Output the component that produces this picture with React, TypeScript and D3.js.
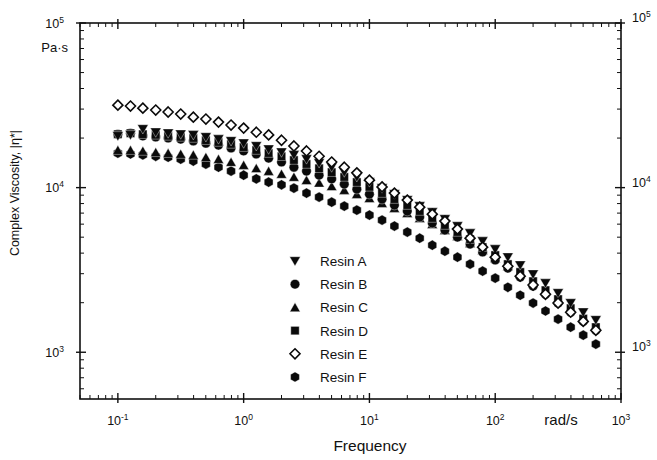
import React from 'react';
import * as d3 from 'd3';

const W = 657;
const H = 460;

const frequency = [0.1, 0.126, 0.158, 0.2, 0.251, 0.316, 0.398, 0.501, 0.631, 0.794, 1, 1.26, 1.58, 2, 2.51, 3.16, 3.98, 5.01, 6.31, 7.94, 10, 12.6, 15.8, 20, 25.1, 31.6, 39.8, 50.1, 63.1, 79.4, 100, 126, 158, 200, 251, 316, 398, 501, 631];

const resinA = [20600, 20900, 22700, 21700, 21400, 21100, 20900, 20300, 19700, 19200, 18600, 17900, 17100, 16400, 15800, 14900, 14100, 13300, 12400, 11600, 10800, 9930, 9130, 8400, 7720, 7100, 6440, 5840, 5290, 4730, 4230, 3780, 3380, 2980, 2630, 2290, 1990, 1750, 1570];
const resinB = [21100, 21400, 20600, 20300, 20000, 19700, 19200, 18600, 18100, 17400, 16700, 16000, 15100, 14300, 13300, 12600, 11900, 11300, 10500, 9790, 9130, 8510, 7830, 7200, 6620, 6090, 5520, 5000, 4540, 4060, 3630, 3240, 2860, 2520, 2250, 1990, 1750, 1540, 1360];
const resinC = [16900, 16900, 16700, 16400, 16200, 16000, 15800, 15300, 14900, 14300, 13700, 13100, 12600, 12100, 11600, 11100, 10700, 10200, 9660, 9130, 8630, 8050, 7510, 7000, 6530, 6000, 5520, 5070, 4600, 4170, 3730, 3330, 2980, 2630, 2350, 2070, 1830, 1610, 1420];
const resinD = [21100, 21400, 21100, 20900, 20600, 20300, 20000, 19400, 18900, 18400, 17600, 16900, 16200, 15500, 14700, 13900, 13100, 12400, 11600, 10800, 10100, 9260, 8510, 7830, 7200, 6530, 5920, 5370, 4860, 4350, 3890, 3430, 3070, 2700, 2380, 2100, 1850, 1600, 1420];
const resinE = [31700, 31300, 30400, 29600, 28800, 28000, 26800, 26100, 25000, 24000, 23000, 21700, 20900, 19400, 17900, 16700, 15500, 14300, 13300, 12300, 11100, 10100, 9260, 8400, 7610, 6900, 6260, 5600, 4930, 4350, 3780, 3330, 2900, 2560, 2250, 1990, 1750, 1540, 1360];
const resinF = [16200, 16000, 15800, 15500, 15300, 14900, 14500, 13900, 13300, 12600, 11900, 11300, 10800, 10400, 9930, 9260, 8760, 8160, 7720, 7300, 6810, 6350, 5840, 5370, 4930, 4470, 4110, 3780, 3430, 3110, 2820, 2480, 2220, 1990, 1780, 1590, 1420, 1270, 1120];

const legendNames = ['Resin A', 'Resin B', 'Resin C', 'Resin D', 'Resin E', 'Resin F'];
const symbolKinds = ['triDown', 'circle', 'triUp', 'square', 'diamond', 'hexagon'];
const seriesValues = [resinA, resinB, resinC, resinD, resinE, resinF];
const drawOrder = [5, 2, 1, 3, 0, 4];

const xMajorLabels = ['-1', '0', '1', '2', '3'];
const yMajorLabels = ['3', '4', '5'];

function markerPath(kind: string): string {
  switch (kind) {
    case 'triDown':
      return 'M-5.4,-4.3L5.4,-4.3L0,5Z';
    case 'triUp':
      return 'M0,-4.8L5.2,4.3L-5.2,4.3Z';
    case 'circle':
      return 'M-4.8,0A4.8,4.8 0 1,0 4.8,0A4.8,4.8 0 1,0 -4.8,0Z';
    case 'square':
      return 'M-4.2,-4.2L4.2,-4.2L4.2,4.2L-4.2,4.2Z';
    case 'diamond':
      return 'M0,-5L5,0L0,5L-5,0Z';
    case 'hexagon': {
      const r = 5.1;
      const pts = d3.range(6).map((i) => {
        const a = (Math.PI / 3) * i + Math.PI / 6;
        return `${(r * Math.cos(a)).toFixed(2)},${(r * Math.sin(a)).toFixed(2)}`;
      });
      return 'M' + pts.join('L') + 'Z';
    }
    default:
      return '';
  }
}

function Marker({ kind, cx, cy }: { kind: string; cx: number; cy: number }) {
  const open = kind === 'diamond';
  return (
    <path
      d={markerPath(kind)}
      transform={`translate(${cx},${cy})`}
      fill={open ? '#fff' : '#0a0a0a'}
      stroke={open ? '#0a0a0a' : '#fff'}
      strokeWidth={open ? 1.6 : 0.4}
    />
  );
}

export default function App() {
  const left = 80, right = 621, top = 23, bottom = 399;
  const x = d3.scaleLog().domain([0.05, 1000]).range([left, right]);
  const y = d3.scaleLog().domain([520, 100000]).range([bottom, top]);
  const isMajor = (t: number) => Math.abs(Math.log10(t) - Math.round(Math.log10(t))) < 1e-6;
  const xTicks = x.ticks();
  const yTicks = y.ticks();
  const xMajors = xTicks.filter(isMajor);
  const yMajors = yTicks.filter(isMajor);
  const font = 'Liberation Sans, Arial, sans-serif';
  const ink = '#111';

  return (
    <svg width={W} height={H} style={{ position: 'absolute', left: 0, top: 0, background: '#fff' }} fontFamily={font}>
      <rect x={0} y={0} width={W} height={H} fill="#fff" />
      {xTicks.map((t, i) => {
        const m = isMajor(t);
        const px = x(t);
        return (
          <g key={'xt' + i} stroke={ink} strokeWidth={m ? 1.4 : 1}>
            <line x1={px} x2={px} y1={m ? bottom + 4 : bottom} y2={bottom - (m ? 6 : 4)} />
            <line x1={px} x2={px} y1={m ? top - 4 : top} y2={top + (m ? 6 : 4)} />
          </g>
        );
      })}
      {yTicks.map((t, i) => {
        const m = isMajor(t);
        const py = y(t);
        return (
          <g key={'yt' + i} stroke={ink} strokeWidth={m ? 1.4 : 1}>
            <line x1={m ? left - 4 : left} x2={left + (m ? 6 : 4)} y1={py} y2={py} />
            <line x1={m ? right + 4 : right} x2={right - (m ? 6 : 4)} y1={py} y2={py} />
          </g>
        );
      })}
      <rect x={left} y={top} width={right - left} height={bottom - top} fill="none" stroke={ink} strokeWidth={1.6} />

      {xMajors.map((t, i) => (
        <text key={'xl' + i} x={x(t)} y={425} textAnchor="middle" fontSize={12.5} fill={ink}>
          10<tspan dy={-5} fontSize={8.5}>{xMajorLabels[i]}</tspan>
        </text>
      ))}
      <text x={561} y={425} textAnchor="middle" fontSize={15} fill={ink}>rad/s</text>
      <text x={370} y={451} textAnchor="middle" fontSize={15.5} fill={ink}>Frequency</text>

      {yMajors.map((t, i) => (
        <text key={'yl' + i} x={64} y={y(t) + 4.5} textAnchor="end" fontSize={12.5} fill={ink}>
          10<tspan dy={-5} fontSize={8.5}>{yMajorLabels[i]}</tspan>
        </text>
      ))}
      {yMajors.map((t, i) => (
        <text key={'yr' + i} x={632} y={y(t) - 1} textAnchor="start" fontSize={12.5} fill={ink}>
          10<tspan dy={-5} fontSize={8.5}>{yMajorLabels[i]}</tspan>
        </text>
      ))}
      <text x={68} y={52} textAnchor="end" fontSize={13} fill={ink}>Pa·s</text>
      <text transform={`translate(19,193) rotate(-90)`} textAnchor="middle" fontSize={12.5} fill={ink}>
        Complex Viscosity, |η*|
      </text>

      {drawOrder.map((si) => (
        <g key={'s' + si}>
          {seriesValues[si].map((v, k) => (
            <Marker key={k} kind={symbolKinds[si]} cx={x(frequency[k])} cy={y(v)} />
          ))}
        </g>
      ))}

      {legendNames.map((name, i) => {
        const ly = 261 + i * 23.2;
        return (
          <g key={'lg' + i}>
            <Marker kind={symbolKinds[i]} cx={295} cy={ly} />
            <text x={320} y={ly + 5} fontSize={13.5} fill={ink}>{name}</text>
          </g>
        );
      })}
    </svg>
  );
}
